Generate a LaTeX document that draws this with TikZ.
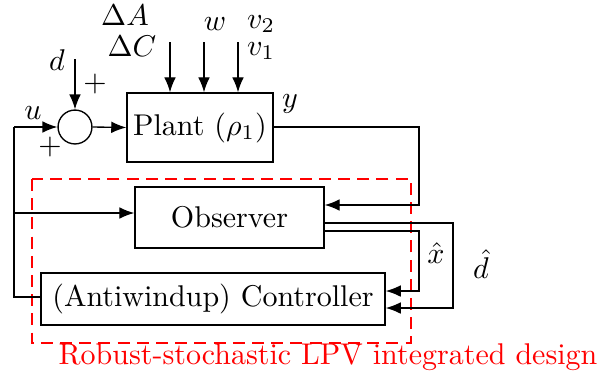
\documentclass[tikz,border=0pt]{standalone}
\usetikzlibrary{arrows.meta}
\begin{document}
\begin{tikzpicture}[x=0.3333pt,y=-0.3333pt,
  blk/.style={draw,line width=0.45pt,inner sep=0pt},
  arr/.style={-{Latex[length=5pt,width=3.9pt]},line width=0.45pt},
  ln/.style={line width=0.45pt},
  lbl/.style={inner sep=0pt}]
\useasboundingbox (0,0) rectangle (600,380);
% blocks
\node[blk,minimum width=48.7pt,minimum height=23pt] (plant) at (200,127.5) {Plant $(\rho_1)$};
\node[blk,minimum width=63pt,minimum height=20.3pt] (obs) at (229.5,217.5) {Observer};
\node[blk,minimum width=114.7pt,minimum height=17.3pt] (ctrl) at (213,299) {(Antiwindup) Controller};
\node[draw,circle,minimum size=11.3pt,inner sep=0pt,line width=0.45pt] (sum) at (75,127) {};
% red dashed box
\draw[red,dashed,line width=0.8pt,dash pattern=on 4pt off 2.4pt] (32,179) rectangle (411,343);
\node[lbl,red] (title) at (328,357) {Robust-stochastic LPV integrated design};
% coordinates
\coordinate (dtop) at (75,59);
\coordinate (ustart) at (14,127);
\coordinate (ubot) at (14,297);
\coordinate (ubr) at (14,213);
\coordinate (i1) at (170,42);
\coordinate (i2) at (204,42);
\coordinate (i3) at (238,42);
\coordinate (yc1) at (419,127);
\coordinate (yc2) at (419,205);
\coordinate (o1a) at (453,223);
\coordinate (o1b) at (453,308);
\coordinate (o2a) at (419,231);
\coordinate (o2b) at (419,291);
% connectors
\draw[arr] (dtop) -- (sum.north);
\draw[arr] (ustart) -- (sum.west);
\draw[arr] (sum.east) -- (plant.west);
\draw[arr] (i1) -- (i1 |- plant.north);
\draw[arr] (i2) -- (i2 |- plant.north);
\draw[arr] (i3) -- (i3 |- plant.north);
\draw[arr] (plant.east |- yc1) -- (yc1) -- (yc2) -- (yc2 -| obs.east);
\draw[ln] (ustart) -- (ubot) -- (ubot -| ctrl.west);
\draw[arr] (ubr) -- (ubr -| obs.west);
\draw[arr] (o1a -| obs.east) -- (o1a) -- (o1b) -- (o1b -| ctrl.east);
\draw[arr] (o2a -| obs.east) -- (o2a) -- (o2b) -- (o2b -| ctrl.east);
% labels
\node[lbl] (lu) at (33,113) {$u$};
\node[lbl] (lp1) at (50,147) {$+$};
\node[lbl] (ld) at (57,60) {$d$};
\node[lbl] (lp2) at (95,84) {$+$};
\node[lbl] (lda) at (125,15) {$\Delta A$};
\node[lbl] (ldc) at (132,46) {$\Delta C$};
\node[lbl] (lw) at (215,24) {$w$};
\node[lbl] (lv2) at (261,24) {$v_2$};
\node[lbl] (lv1) at (261,51) {$v_1$};
\node[lbl] (ly) at (290,104) {$y$};
\node[lbl] (lxh) at (436,253) {$\hat{x}$};
\node[lbl] (ldh) at (481,264) {$\hat{d}$};
\end{tikzpicture}
\end{document}
